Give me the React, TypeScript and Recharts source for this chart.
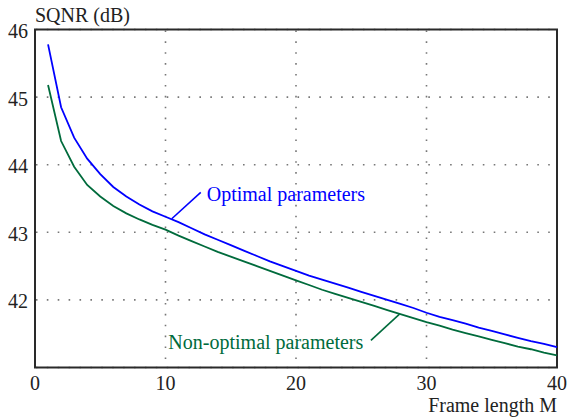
import React from 'react';
import {
  LineChart,
  Line,
  XAxis,
  YAxis,
  CartesianGrid,
  ReferenceArea,
  ReferenceLine,
  ReferenceDot,
} from 'recharts';

const frameLengths = [
  1, 2, 3, 4, 5, 6, 7, 8, 9, 10, 11, 12, 13, 14, 15, 16, 17, 18, 19, 20,
  21, 22, 23, 24, 25, 26, 27, 28, 29, 30, 31, 32, 33, 34, 35, 36, 37, 38, 39, 40,
];

const optimalSqnr = [
  45.78, 44.85, 44.4, 44.09, 43.86, 43.67, 43.53, 43.41, 43.31, 43.23,
  43.15, 43.06, 42.97, 42.89, 42.81, 42.73, 42.65, 42.57, 42.5, 42.43,
  42.36, 42.3, 42.24, 42.18, 42.12, 42.06, 42.0, 41.94, 41.88, 41.81,
  41.75, 41.7, 41.65, 41.59, 41.54, 41.49, 41.44, 41.39, 41.35, 41.3,
];

const nonOptimalSqnr = [
  45.18, 44.35, 43.97, 43.7, 43.53, 43.39, 43.28, 43.19, 43.11, 43.04,
  42.95, 42.87, 42.79, 42.71, 42.64, 42.57, 42.5, 42.43, 42.36, 42.29,
  42.22, 42.15, 42.09, 42.03, 41.97, 41.91, 41.85, 41.79, 41.73, 41.67,
  41.62, 41.56, 41.51, 41.46, 41.41, 41.36, 41.31, 41.27, 41.22, 41.18,
];

const xTicks = [0, 10, 20, 30, 40];
const yTicks = [41, 42, 43, 44, 45, 46];
const yTickLabels = ['', '42', '43', '44', '45', '46'];

const data = frameLengths.map((m, i) => ({
  m,
  optimal: optimalSqnr[i],
  nonOptimal: nonOptimalSqnr[i],
}));

const FONT = 'Liberation Serif';
const BLUE = '#0000ff';
const GREEN = '#006b3c';
const TEXT = '#222';

const textStyle = { fontFamily: FONT, fontSize: 20 };

const XTick = (props: any) => {
  const { x, y, payload } = props;
  return (
    <text x={x} y={y + 22.3} textAnchor="middle" style={textStyle} fill={TEXT}>
      {payload.value}
    </text>
  );
};

const YTick = (props: any) => {
  const { x, y, payload } = props;
  const idx = yTicks.indexOf(payload.value);
  const label = idx >= 0 ? yTickLabels[idx] : '';
  if (!label) return <g />;
  return (
    <text x={x - 7} y={y + 8.5} textAnchor="end" style={textStyle} fill={TEXT}>
      {label}
    </text>
  );
};

const XLabel = (props: any) => {
  const vb = props.viewBox || {};
  return (
    <text x={vb.x + vb.width} y={vb.y + 44} textAnchor="end" style={textStyle} fill={TEXT}>
      Frame length M
    </text>
  );
};

const YLabel = (props: any) => {
  const vb = props.viewBox || {};
  return (
    <text x={vb.x + vb.width} y={vb.y - 7.5} textAnchor="start" style={textStyle} fill={TEXT}>
      SQNR (dB)
    </text>
  );
};

const makeTextShape = (text: string, color: string) => (props: any) => (
  <text x={props.cx} y={props.cy} textAnchor="start" style={textStyle} fill={color}>
    {text}
  </text>
);

export default function App() {
  return (
    <div style={{ position: 'absolute', left: 0, top: 0, background: '#fff' }}>
      <LineChart
        width={568}
        height={419}
        data={data}
        margin={{ top: 29.5, right: 11, bottom: 21.5, left: 0 }}
      >
        <CartesianGrid
          stroke="#777"
          strokeWidth={1.6}
          strokeDasharray="1.6 9.3"
          strokeDashoffset={10}
        />
        <XAxis
          dataKey="m"
          type="number"
          domain={[0, 40]}
          ticks={xTicks}
          height={30}
          tickLine={false}
          axisLine={false}
          tickSize={0}
          tickMargin={0}
          tick={<XTick />}
          label={<XLabel />}
          interval={0}
        />
        <YAxis
          type="number"
          domain={[41, 46]}
          ticks={yTicks}
          width={35}
          tickLine={false}
          axisLine={false}
          tickSize={0}
          tickMargin={0}
          tick={<YTick />}
          label={<YLabel />}
          interval={0}
        />
        <Line
          type="linear"
          dataKey="optimal"
          stroke={BLUE}
          strokeWidth={1.8}
          dot={false}
          isAnimationActive={false}
        />
        <Line
          type="linear"
          dataKey="nonOptimal"
          stroke={GREEN}
          strokeWidth={1.8}
          dot={false}
          isAnimationActive={false}
        />
        <ReferenceLine
          segment={[
            { x: 10.48, y: 43.2 },
            { x: 12.7, y: 43.59 },
          ]}
          stroke={BLUE}
          strokeWidth={1.6}
        />
        <ReferenceLine
          segment={[
            { x: 25.74, y: 41.4 },
            { x: 27.93, y: 41.79 },
          ]}
          stroke={GREEN}
          strokeWidth={1.6}
        />
        <ReferenceDot x={13.16} y={43.47} r={0} shape={makeTextShape('Optimal parameters', BLUE)} />
        <ReferenceDot x={10.22} y={41.27} r={0} shape={makeTextShape('Non-optimal parameters', GREEN)} />
        <ReferenceArea
          x1={0}
          x2={40}
          y1={41}
          y2={46}
          fill="none"
          stroke="#2a2a2a"
          strokeWidth={2}
        />
      </LineChart>
    </div>
  );
}
